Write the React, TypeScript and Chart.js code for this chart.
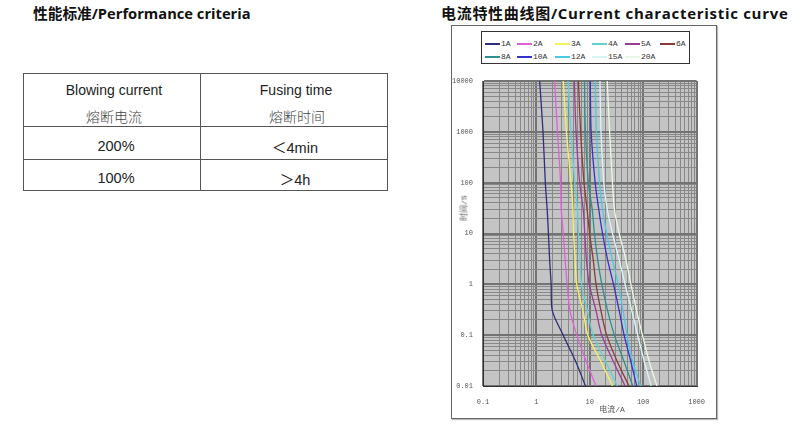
import React, { useEffect, useRef } from 'react';
import { Chart, registerables } from 'chart.js';

Chart.register(...registerables);

// ---- data ----
const TIMES = [10000, 1000, 100, 30, 10, 3, 1, 0.3, 0.1, 0.03, 0.01];
const SERIES = ['1A', '2A', '3A', '4A', '5A', '6A', '8A', '10A', '12A', '15A', '20A'];
const I_1A = [1.15, 1.33, 1.47, 1.59, 1.68, 1.77, 1.89, 1.99, 3.18, 5.47, 8.29];
const I_2A = [2.19, 2.48, 2.84, 2.92, 3.18, 3.46, 3.76, 4.26, 5.7, 8.64, 13.1];
const I_3A = [3.18, 3.65, 4.44, 4.83, 4.97, 5.31, 5.7, 7.47, 9.2, 16.2, 26.6];
const I_4A = [3.92, 4.44, 5.24, 5.87, 6.12, 6.54, 7.02, 9.01, 11.6, 19.9, 32.8];
const I_5A = [5.13, 5.53, 6.46, 7.53, 8.05, 8.64, 9.79, 13.1, 16.8, 27.8, 45.8];
const I_6A = [6.12, 6.73, 7.79, 8.9, 9.92, 11.6, 13.1, 16.2, 20.7, 32.8, 54.1];
const I_8A = [7.95, 8.29, 9.4, 11.1, 12.2, 14.1, 16.8, 21.6, 28.9, 43.9, 63.9];
const I_10A = [10.2, 10.6, 12.6, 14.7, 17.3, 21.6, 27.8, 35.6, 43.9, 58.8, 75.5];
const I_12A = [12.6, 13.3, 15.2, 17.3, 20.7, 26.6, 34.2, 42.1, 49.8, 63.9, 89.2];
const I_15A = [15.5, 16.2, 18.3, 21.2, 26.6, 35.6, 45.8, 61.3, 78.7, 105, 141];
const I_20A = [21.2, 23.5, 26.6, 28.9, 35.6, 47.7, 58.8, 75.5, 96.9, 130, 181];
const CURRENTS = [I_1A, I_2A, I_3A, I_4A, I_5A, I_6A, I_8A, I_10A, I_12A, I_15A, I_20A];
const COLORS = ['#2e2e7a', '#e060d8', '#f2f25a', '#5fd3d3', '#9a3d9a', '#8b3a3a', '#2f8f8f', '#3333cc', '#4cc8e8', '#d6f6f6', '#e8f8e2'];

const X_TICKS = [0.1, 1, 10, 100, 1000];
const X_TICK_LABELS = ['0.1', '1', '10', '100', '1000'];
const Y_TICKS = [0.01, 0.1, 1, 10, 100, 1000, 10000];
const Y_TICK_LABELS = ['0.01', '0.1', '1', '10', '100', '1000', '10000'];

const TITLE_LEFT = '性能标准/Performance criteria';
const TITLE_RIGHT = '电流特性曲线图/Current characteristic curve';
const X_TITLE = '电流/A';
const Y_TITLE = '时间/S';
const TABLE_HEAD = [['Blowing current', '熔断电流'], ['Fusing time', '熔断时间']];
const TABLE_ROWS = [['200%', '＜4min'], ['100%', '＞4h']];

// ---- helpers ----
function logGrid(lo: number, hi: number): number[] {
  const out: number[] = [];
  const e0 = Math.round(Math.log10(lo));
  const e1 = Math.round(Math.log10(hi));
  for (let e = e0; e < e1; e++) {
    for (let m = 1; m <= 9; m++) out.push(parseFloat((m * Math.pow(10, e)).toPrecision(6)));
  }
  out.push(hi);
  return out;
}
const isDecade = (v: number) => Math.abs(Math.log10(v) - Math.round(Math.log10(v))) < 1e-6;
const labelFor = (v: number, vals: number[], labels: string[]) => {
  const i = vals.findIndex((t) => Math.abs(Math.log10(t) - Math.log10(v)) < 1e-6);
  return i >= 0 ? labels[i] : '';
};

const TICK_FONT = { family: '"Liberation Mono", "DejaVu Sans Mono", monospace', size: 7 };

const plotBg = {
  id: 'plotBg',
  beforeDraw(c: any) {
    const { ctx, chartArea: a } = c;
    ctx.save();
    ctx.fillStyle = '#c4c4c4';
    ctx.fillRect(a.left, a.top, a.right - a.left, a.bottom - a.top);
    ctx.restore();
  },
};

function gridOpts() {
  return {
    drawTicks: false,
    color: (ctx: any) => (ctx.tick && isDecade(ctx.tick.value) ? '#737373' : '#888888'),
    lineWidth: (ctx: any) => (ctx.tick && isDecade(ctx.tick.value) ? 2 : 1),
  };
}

function CurveChart() {
  const ref = useRef<HTMLCanvasElement>(null);
  useEffect(() => {
    if (!ref.current) return;
    const chart = new Chart(ref.current, {
      type: 'line',
      data: {
        datasets: SERIES.map((name, i) => ({
          label: name,
          data: TIMES.map((t, j) => ({ x: CURRENTS[i][j], y: t })),
          borderColor: COLORS[i],
          backgroundColor: COLORS[i],
          borderWidth: 1.3,
          pointRadius: 0,
          fill: false,
          tension: 0.3,
        })),
      },
      options: {
        animation: false,
        responsive: false,
        devicePixelRatio: 1,
        layout: { padding: { top: 56, right: 13, left: 0, bottom: 0 } },
        plugins: { legend: { display: false }, tooltip: { enabled: false } },
        scales: {
          x: {
            type: 'logarithmic',
            min: 0.1,
            max: 1000,
            afterBuildTicks: (s: any) => {
              s.ticks = logGrid(0.1, 1000).map((v) => ({ value: v }));
            },
            afterFit: (s: any) => {
              s.height = 33;
            },
            ticks: {
              autoSkip: false,
              maxRotation: 0,
              padding: 12,
              color: '#555',
              font: TICK_FONT,
              callback: (v: any) => labelFor(Number(v), X_TICKS, X_TICK_LABELS),
            },
            grid: gridOpts(),
            border: { color: '#333', width: 1 },
          },
          y: {
            type: 'logarithmic',
            min: 0.01,
            max: 10000,
            afterBuildTicks: (s: any) => {
              s.ticks = logGrid(0.01, 10000).map((v) => ({ value: v }));
            },
            afterFit: (s: any) => {
              s.width = 32;
            },
            ticks: {
              autoSkip: false,
              padding: 10,
              color: '#555',
              font: TICK_FONT,
              callback: (v: any) => labelFor(Number(v), Y_TICKS, Y_TICK_LABELS),
            },
            grid: gridOpts(),
            border: { color: '#333', width: 1 },
          },
        },
      } as any,
      plugins: [plotBg],
    });
    return () => chart.destroy();
  }, []);
  return <canvas ref={ref} width={266} height={394} style={{ position: 'absolute', left: 451, top: 25, width: 266, height: 394 }} />;
}

const abs = (x: number, y: number, extra: React.CSSProperties = {}): React.CSSProperties => ({
  position: 'absolute',
  left: x,
  top: y,
  transform: 'translate(-50%, -50%)',
  whiteSpace: 'nowrap',
  ...extra,
});

const SANS = '"Liberation Sans", Arial, "Noto Sans CJK SC", sans-serif';
const CJK = '"Noto Sans CJK SC", sans-serif';
const TITLE_FONT = '"Open Sans", "Noto Sans CJK SC", sans-serif';
const SMALL = '"Liberation Mono", "Noto Sans CJK SC", monospace';

export default function App() {
  const legendCols = [32, 38, 37, 33, 35, 35];
  const colX: number[] = [];
  legendCols.reduce((acc, w) => {
    colX.push(acc);
    return acc + w;
  }, 485);

  return (
    <div style={{ position: 'absolute', left: 0, top: 0, width: 800, height: 429, background: '#fff', overflow: 'hidden' }}>
      {/* titles */}
      <div style={{ position: 'absolute', left: 33, top: 2, fontFamily: TITLE_FONT, fontWeight: 700, fontSize: 14.7, color: '#111', whiteSpace: 'nowrap' }}>{TITLE_LEFT}</div>
      <div style={{ position: 'absolute', left: 441, top: 2, fontFamily: TITLE_FONT, fontWeight: 700, fontSize: 15, letterSpacing: 0.7, color: '#111', whiteSpace: 'nowrap' }}>{TITLE_RIGHT}</div>

      {/* table */}
      <div style={{ position: 'absolute', left: 23, top: 73, width: 365, height: 118, border: '1px solid #555', boxSizing: 'border-box' }} />
      <div style={{ position: 'absolute', left: 200, top: 73, width: 1, height: 118, background: '#555' }} />
      <div style={{ position: 'absolute', left: 23, top: 126, width: 365, height: 1, background: '#555' }} />
      <div style={{ position: 'absolute', left: 23, top: 159, width: 365, height: 1, background: '#555' }} />
      {TABLE_HEAD.map((h, c) => (
        <React.Fragment key={'h' + c}>
          <div style={abs(c === 0 ? 114 : 296, 90, { fontFamily: SANS, fontSize: 14, color: '#222' })}>{h[0]}</div>
          <div style={abs(c === 0 ? 114 : 297, 116, { fontFamily: CJK, fontSize: 14, color: '#444', fontWeight: 300 })}>{h[1]}</div>
        </React.Fragment>
      ))}
      {TABLE_ROWS.map((r, ri) => (
        <React.Fragment key={'r' + ri}>
          <div style={abs(116, ri === 0 ? 146 : 178, { fontFamily: SANS, fontSize: 14.5, color: '#222' })}>{r[0]}</div>
          <div style={abs(295, ri === 0 ? 146 : 178, { fontFamily: SANS, fontSize: 14.5, color: '#222' })}>{r[1]}</div>
        </React.Fragment>
      ))}

      {/* chart frame */}
      <div style={{ position: 'absolute', left: 451, top: 25, width: 266, height: 394, border: '1px solid #666', boxSizing: 'border-box', boxShadow: '1px 1px 1px #bbb' }} />
      <CurveChart />

      {/* legend */}
      <div style={{ position: 'absolute', left: 481, top: 31, width: 209, height: 33, border: '1px solid #333', boxSizing: 'border-box', background: '#fff' }} />
      {SERIES.map((name, i) => {
        const row = i < 6 ? 0 : 1;
        const col = i % 6;
        const x = colX[col];
        const y = row === 0 ? 44 : 57;
        return (
          <React.Fragment key={name}>
            <div style={{ position: 'absolute', left: x, top: y - 1, width: 15, height: 1.5, background: COLORS[i] }} />
            <div style={{ position: 'absolute', left: x + 16, top: y - 5, fontFamily: SMALL, fontSize: 8, lineHeight: '10px', color: '#333', whiteSpace: 'nowrap' }}>{name}</div>
          </React.Fragment>
        );
      })}

      {/* axis titles */}
      <div style={abs(463, 208, { fontFamily: SMALL, fontSize: 8, color: '#555', transform: 'translate(-50%, -50%) rotate(-90deg)' })}>{Y_TITLE}</div>
      <div style={abs(612, 408, { fontFamily: SMALL, fontSize: 8, color: '#555' })}>{X_TITLE}</div>
    </div>
  );
}
